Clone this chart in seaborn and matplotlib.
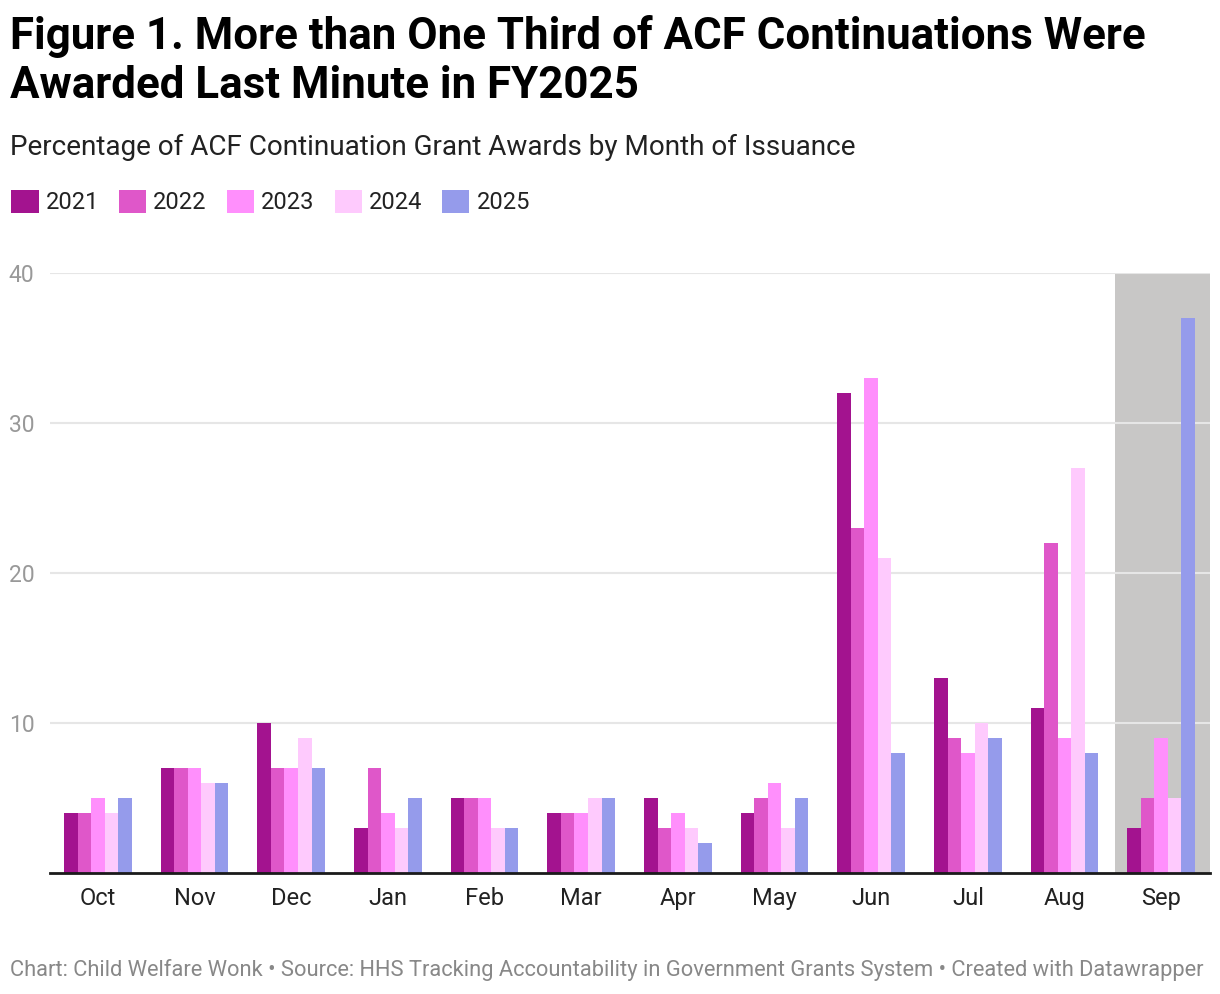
import pandas as pd
import seaborn as sns
import matplotlib.pyplot as plt
from matplotlib.patches import Patch

months = ["Oct", "Nov", "Dec", "Jan", "Feb", "Mar", "Apr", "May", "Jun", "Jul", "Aug", "Sep"]
years = ["2021", "2022", "2023", "2024", "2025"]
pct_2021 = [4, 7, 10, 3, 5, 4, 5, 4, 32, 13, 11, 3]
pct_2022 = [4, 7, 7, 7, 5, 4, 3, 5, 23, 9, 22, 5]
pct_2023 = [5, 7, 7, 4, 5, 4, 4, 6, 33, 8, 9, 9]
pct_2024 = [4, 6, 9, 3, 3, 5, 3, 3, 21, 10, 27, 5]
pct_2025 = [5, 6, 7, 5, 3, 5, 2, 5, 8, 9, 8, 37]
yticks = [10, 20, 30, 40]
colors = ["#a3138f", "#df57c9", "#ff8ffc", "#fecafd", "#959beb"]

series = [pct_2021, pct_2022, pct_2023, pct_2024, pct_2025]
rows = []
for yr, vals in zip(years, series):
    for m, v in zip(months, vals):
        rows.append({"month": m, "year": yr, "pct": v})
df = pd.DataFrame(rows)

sns.set_style("white")
plt.rcParams["font.family"] = ["Roboto", "DejaVu Sans"]

fig = plt.figure(figsize=(12.2, 9.94), dpi=100)
ax = fig.add_axes([49.6 / 1220, 121 / 994, (1209.5 - 49.6) / 1220, 600 / 994])

# shaded September column
ax.axvspan(10.52, 11.5, color="#c8c7c6", zorder=0, lw=0)

sns.barplot(data=df, x="month", y="pct", hue="year", order=months, hue_order=years,
            palette=colors, width=0.7, gap=0, saturation=1, ax=ax, zorder=3,
            legend=False, linewidth=0)

ax.set_xlim(-0.5, 11.5)
ax.set_ylim(0, 40)
ax.set_yticks(yticks)
ax.set_yticklabels([str(t) for t in yticks], fontsize=16.5, color="#999999")
ax.tick_params(axis="y", length=0, pad=11)
ax.tick_params(axis="x", length=0, pad=10, labelsize=17, labelcolor="#222222")
ax.yaxis.grid(True, color="#e6e6e6", lw=1.5, zorder=1)
ax.set_axisbelow(True)
ax.set_xlabel("")
ax.set_ylabel("")
for s in ["top", "right", "left"]:
    ax.spines[s].set_visible(False)
ax.spines["bottom"].set_color("#1a1a1a")
ax.spines["bottom"].set_linewidth(2)
ax.spines["bottom"].set_zorder(5)

fig.text(10 / 1220, 1 - 36 / 994, "Figure 1. More than One Third of ACF Continuations Were",
         fontsize=31.6, fontweight="bold", va="center", ha="left", color="#000000")
fig.text(10 / 1220, 1 - 86 / 994, "Awarded Last Minute in FY2025",
         fontsize=31.6, fontweight="bold", va="center", ha="left", color="#000000")
fig.text(10 / 1220, 1 - 147 / 994, "Percentage of ACF Continuation Grant Awards by Month of Issuance",
         fontsize=20.1, va="center", ha="left", color="#222222")
fig.text(10 / 1220, 1 - 970 / 994,
         "Chart: Child Welfare Wonk \u2022 Source: HHS Tracking Accountability in Government Grants System \u2022 Created with Datawrapper",
         fontsize=15.75, va="center", ha="left", color="#888888")

handles = [Patch(facecolor=c, edgecolor="none", label=y) for c, y in zip(colors, years)]
leg = fig.legend(handles=handles, loc="center left", bbox_to_anchor=(2 / 1220, 1 - 202 / 994),
                 ncol=5, frameon=False, fontsize=17, handlelength=1.15, handleheight=1.15,
                 handletextpad=0.3, columnspacing=0.85, borderaxespad=0)
for t in leg.get_texts():
    t.set_color("#222222")

fig.savefig("out.png", dpi=100)
